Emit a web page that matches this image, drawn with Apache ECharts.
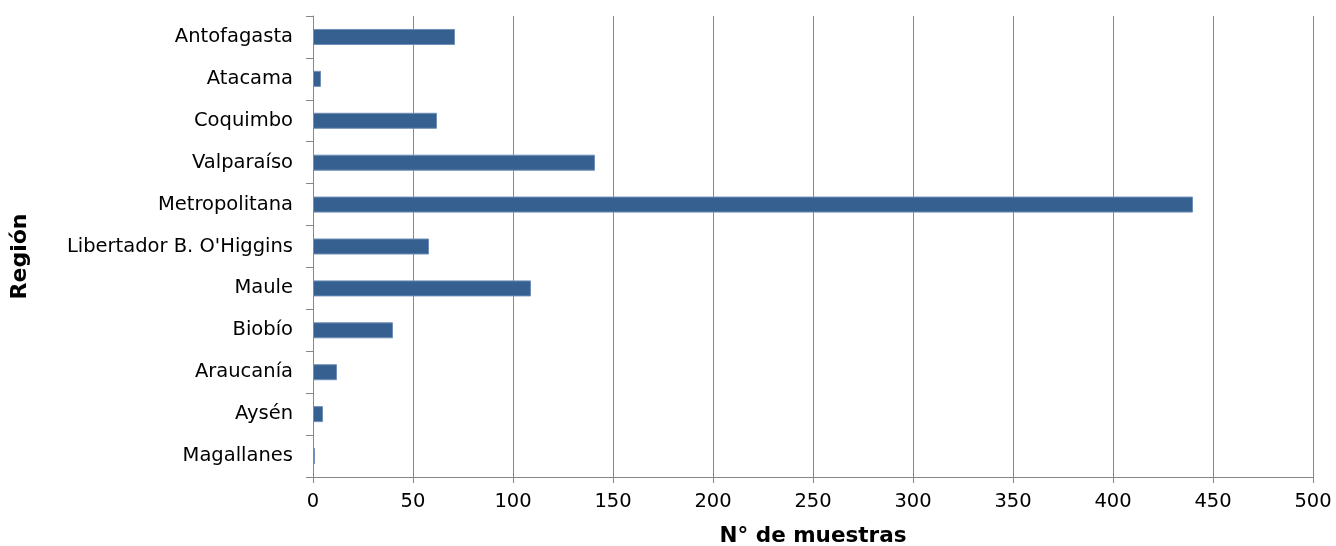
<!DOCTYPE html>
<html><head><meta charset="utf-8">
<script src="https://cdn.jsdelivr.net/npm/echarts@6/dist/echarts.min.js"></script>
<style>html,body{margin:0;padding:0;background:#fff}#c{width:1336px;height:546px}</style>
</head><body><div id="c"></div>
<script>
const regions = ["Antofagasta","Atacama","Coquimbo","Valparaíso","Metropolitana","Libertador B. O'Higgins","Maule","Biobío","Araucanía","Aysén","Magallanes"];
const samples = [71,4,62,141,440,58,109,40,12,5,1];
const xTicks = [0,50,100,150,200,250,300,350,400,450,500];

const chart = echarts.init(document.getElementById('c'));
chart.setOption({
  animation:false,
  textStyle:{fontFamily:'DejaVu Sans'},
  grid:{left:313,right:23,top:16,bottom:69,containLabel:false,outerBoundsMode:'none'},
  xAxis:{type:'value',min:xTicks[0],max:xTicks[xTicks.length-1],interval:50,
    name:'N° de muestras',nameLocation:'middle',nameGap:48,
    nameTextStyle:{fontFamily:'DejaVu Sans',fontWeight:'bold',fontSize:21.5,color:'#000'},
    axisLine:{show:true,lineStyle:{color:'#888',width:1}},
    axisTick:{show:true,length:6,lineStyle:{color:'#888'}},
    axisLabel:{fontSize:19.5,color:'#000',margin:15},
    splitLine:{show:true,lineStyle:{color:'#888',width:1}}},
  yAxis:{type:'category',data:regions,inverse:true,
    name:'Región',nameLocation:'middle',nameGap:282,nameRotate:90,
    nameTextStyle:{fontFamily:'DejaVu Sans',fontWeight:'bold',fontSize:22,color:'#000',padding:[0,20,0,0]},
    axisLine:{show:true,lineStyle:{color:'#888'}},
    axisTick:{show:true,length:7,alignWithLabel:false,lineStyle:{color:'#888'}},
    axisLabel:{fontSize:19.5,color:'#000',margin:20},
    splitLine:{show:false}},
  series:[{type:'bar',data:samples,barWidth:16,
    itemStyle:{color:'#35608f',borderColor:'#6f8fb8',borderWidth:1}}]
});
</script></body></html>
